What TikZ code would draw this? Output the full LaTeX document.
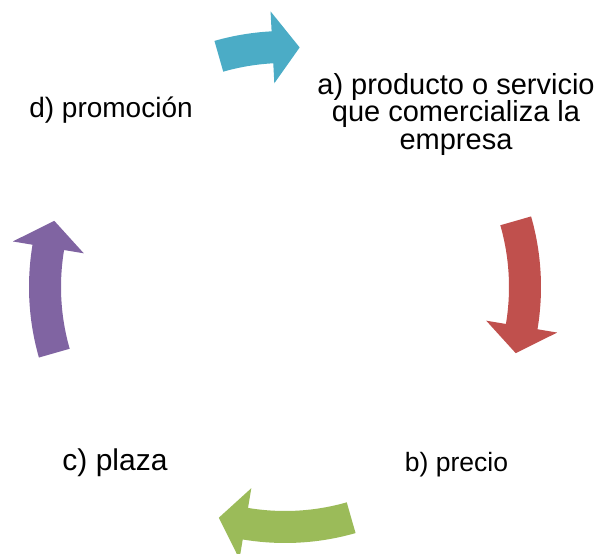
\documentclass[tikz,border=0pt]{standalone}
\usepackage{fontspec}
\setmainfont{Liberation Sans}
\usepackage{tikz}
\usetikzlibrary{calc}
\definecolor{cblue}{HTML}{4BACC6}
\definecolor{cred}{HTML}{C0504D}
\definecolor{cgreen}{HTML}{9BBB59}
\definecolor{cpurple}{HTML}{8064A2}

\begin{document}
\begin{tikzpicture}[x=1pt,y=1pt,lbl/.style={inner sep=0pt,align=center}]
                \useasboundingbox (0,0) rectangle (600,554);
                \coordinate (o) at (285,267);
                \fill[cblue] ($(o)+(106:256)$) arc[start angle=106,end angle=93,radius=256]
                    --($(o)+(93:276)$)--($(o)+(86.5:240)$)--($(o)+(93:204)$)--($(o)+(93:224)$)
                    arc[start angle=93,end angle=106,radius=224]--cycle;
                \fill[cred] ($(o)+(16:256)$) arc[start angle=16,end angle=-9.5,radius=256]
                    --($(o)+(-9.5:276)$)--($(o)+(-16:240)$)--($(o)+(-9.5:204)$)--($(o)+(-9.5:224)$)
                    arc[start angle=-9.5,end angle=16,radius=224]--cycle;
                \fill[cgreen] ($(o)+(-74:256)$) arc[start angle=-74,end angle=-99.5,radius=256]
                    --($(o)+(-99.5:276)$)--($(o)+(-106:240)$)--($(o)+(-99.5:204)$)--($(o)+(-99.5:224)$)
                    arc[start angle=-99.5,end angle=-74,radius=224]--cycle;
                \fill[cpurple] ($(o)+(196:256)$) arc[start angle=196,end angle=170.5,radius=256]
                    --($(o)+(170.5:276)$)--($(o)+(164:240)$)--($(o)+(170.5:204)$)--($(o)+(170.5:224)$)
                    arc[start angle=170.5,end angle=196,radius=224]--cycle;

                \node[lbl,anchor=north,font=\fontsize{29}{27.5}\selectfont] (prod) at (456,481)
                    {a) producto o servicio\\que comercializa la\\empresa};
                \node[lbl,anchor=base,font=\fontsize{26.5}{30}\selectfont] (precio) at (456.5,82) {b) precio};
                \node[lbl,anchor=base,font=\fontsize{30}{33}\selectfont] (plaza) at (115,83) {c) plaza};
                \node[lbl,anchor=base,font=\fontsize{28}{31}\selectfont] (promo) at (111,436) {d) promoción};

                % \draw[red] (o) circle (240);
            \end{tikzpicture}
\end{document}
